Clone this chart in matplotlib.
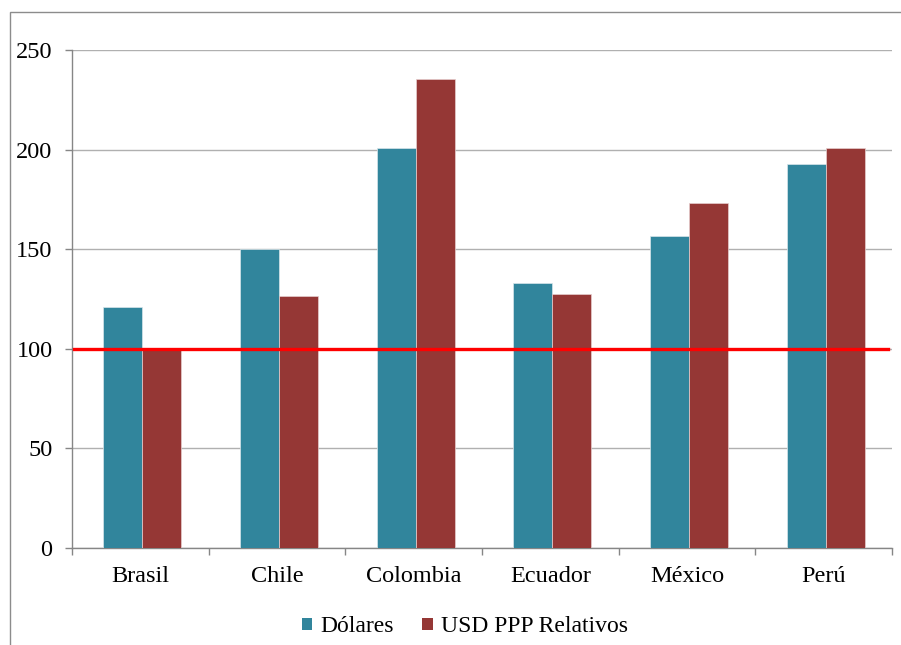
import matplotlib
matplotlib.use("Agg")
import matplotlib.pyplot as plt
from matplotlib.patches import Rectangle, Patch
import numpy as np

# Data
categories = ["Brasil", "Chile", "Colombia", "Ecuador", "México", "Perú"]
dolares = [120.9, 149.9, 201.0, 132.8, 156.6, 192.8]
usd_ppp = [99.3, 126.4, 235.7, 127.4, 173.3, 200.7]
reference_level = 100
y_ticks = [0, 50, 100, 150, 200, 250]
series_names = ["Dólares", "USD PPP Relativos"]

teal = "#31859C"
brick = "#953735"
grid_gray = "#B0B0B0"
axis_gray = "#868686"
FONT = "Liberation Serif"

plt.rcParams["font.family"] = FONT

W, H = 901, 645
fig = plt.figure(figsize=(W / 100, H / 100), dpi=100)

# outer chart frame (top and left edges visible)
fig.add_artist(Rectangle((10 / W, -0.1), 1.2, (645 - 12) / H + 0.1,
                         transform=fig.transFigure, fill=False,
                         edgecolor="#8C8C8C", linewidth=1.0))

ax = fig.add_axes([72 / W, (645 - 547.5) / H, (892 - 72) / W, (547.5 - 50.3) / H])

x = np.arange(len(categories))
w = 1 / 3.5
ax.bar(x - w / 2 + 0.015, dolares, width=w, color=teal, edgecolor="#D8E6EA",
       linewidth=0.5, zorder=3)
ax.bar(x + w / 2 + 0.015, usd_ppp, width=w, color=brick, edgecolor="#E6CFCF",
       linewidth=0.5, zorder=3)

ax.axhline(reference_level, xmin=0.003, xmax=0.995, color="#FF0000",
           linewidth=2.4, zorder=4)

ax.set_xlim(-0.5, len(categories) - 0.5)
ax.set_ylim(0, 250)
ax.set_yticks(y_ticks)
ax.set_yticklabels([str(t) for t in y_ticks], fontfamily=FONT, fontsize=17.5)
ax.yaxis.grid(True, color=grid_gray, linewidth=1.0, zorder=0)
ax.set_axisbelow(True)

ax.set_xticks(x)
ax.set_xticklabels(categories, fontfamily=FONT, fontsize=17.5)
ax.set_xticks(np.arange(-0.5, len(categories)), minor=True)
ax.tick_params(axis="x", which="major", length=0, pad=13)
ax.tick_params(axis="x", which="minor", length=5, color=axis_gray, width=1)
ax.tick_params(axis="y", length=5, color=axis_gray, width=1, pad=9)

for side in ("top", "right"):
    ax.spines[side].set_visible(False)
for side in ("left", "bottom"):
    ax.spines[side].set_color(axis_gray)
    ax.spines[side].set_linewidth(1.0)

handles = [Patch(facecolor=teal), Patch(facecolor=brick)]
fig.legend(handles, series_names, loc="center", ncol=2,
           bbox_to_anchor=(465 / W, (645 - 627) / H), frameon=False,
           prop={"family": FONT, "size": 17}, handlelength=0.45,
           handleheight=0.45, handletextpad=0.35, columnspacing=1.2,
           borderaxespad=0)

fig.savefig("out.png", dpi=100)
